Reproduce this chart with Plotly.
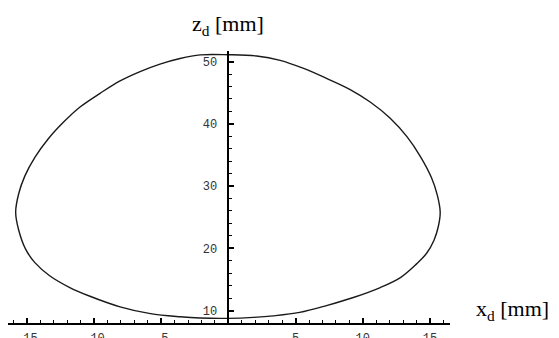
import plotly.graph_objects as go

# Curve (x_d, z_d in mm), going round the loop
x_d = [0.0, 2.1, 3.85, 5.6, 7.3, 9.06, 10.55, 12.04, 13.3, 14.3, 15.1, 15.55, 15.76,
       15.62, 15.3, 14.75, 14.0, 12.8, 11.3, 9.3, 7.3, 5.3, 3.35, 1.86, 0.0,
       -2.1, -3.6, -5.8, -8.06, -10.3, -11.8, -13.3, -14.4, -15.1, -15.6, -15.83,
       -15.6, -15.15, -14.4, -13.4, -12.3, -11.04, -9.55, -8.06, -6.57, -5.09, -3.6,
       -2.09, 0.0]
z_d = [51.1, 50.9, 50.2, 48.9, 47.3, 45.5, 43.5, 40.9, 37.9, 34.7, 31.4, 28.5, 25.8,
       23.5, 21.3, 19.2, 17.5, 15.3, 13.7, 12.1, 10.8, 9.7, 9.15, 8.9, 8.75,
       8.8, 9.0, 9.5, 10.6, 12.3, 13.7, 15.6, 17.7, 19.9, 22.9, 25.8,
       28.8, 31.6, 34.6, 37.6, 40.2, 42.7, 44.9, 46.9, 48.4, 49.6, 50.5,
       51.08, 51.1]

x_ticks = [-15, -10, -5, 5, 10, 15]
x_tick_text = ["-15", "-10", "-5", "5", "10", "15"]
z_ticks = [10, 20, 30, 40, 50]

x_range = [-16.4, 16.49]
z_range = [8.0, 51.7]
y_axis_pos = (0 - x_range[0]) / (x_range[1] - x_range[0])

fig = go.Figure()
fig.add_trace(go.Scatter(
    x=x_d, y=z_d, mode="lines",
    line=dict(color="#1a1a1a", width=1.4, shape="spline", smoothing=1.0),
    hoverinfo="skip", showlegend=False,
))

tick_font = dict(family="Liberation Mono", size=12, color="#333333")

# page body has an 8px margin, so the figure margins are shifted to compensate
fig.update_layout(
    width=559, height=338,
    margin=dict(l=0, r=117, t=43, b=23),
    paper_bgcolor="white", plot_bgcolor="white",
    xaxis=dict(
        range=x_range, showgrid=False, zeroline=False,
        showline=True, linecolor="black", linewidth=1.5,
        tickmode="array", tickvals=x_ticks, ticktext=x_tick_text,
        ticks="inside", ticklen=5, tickwidth=1.5, tickcolor="black",
        minor=dict(dtick=1, tick0=0, ticks="inside", ticklen=3, tickwidth=1.2,
                   tickcolor="black", showgrid=False),
        tickfont=tick_font, ticklabelstandoff=3, automargin=False,
    ),
    yaxis=dict(
        range=z_range, showgrid=False, zeroline=False,
        anchor="free", position=y_axis_pos,
        showline=True, linecolor="black", linewidth=1.5,
        tickmode="array", tickvals=z_ticks,
        ticks="inside", ticklen=5, tickwidth=1.5, tickcolor="black",
        minor=dict(dtick=2, tick0=0, ticks="inside", ticklen=3, tickwidth=1.2,
                   tickcolor="black", showgrid=False),
        tickfont=tick_font, ticklabelstandoff=8, automargin=False,
    ),
    annotations=[
        dict(text="z<sub>d</sub> [mm]", xref="paper", yref="paper",
             x=y_axis_pos, y=1.0, yshift=42, xanchor="center", yanchor="top",
             showarrow=False,
             font=dict(family="Liberation Serif", size=22, color="black")),
        dict(text="x<sub>d</sub> [mm]", xref="paper", yref="paper",
             x=1.0, y=0.0, xshift=24, yshift=13, xanchor="left", yanchor="middle",
             showarrow=False,
             font=dict(family="Liberation Serif", size=22, color="black")),
    ],
)

fig.write_html("out.html")
